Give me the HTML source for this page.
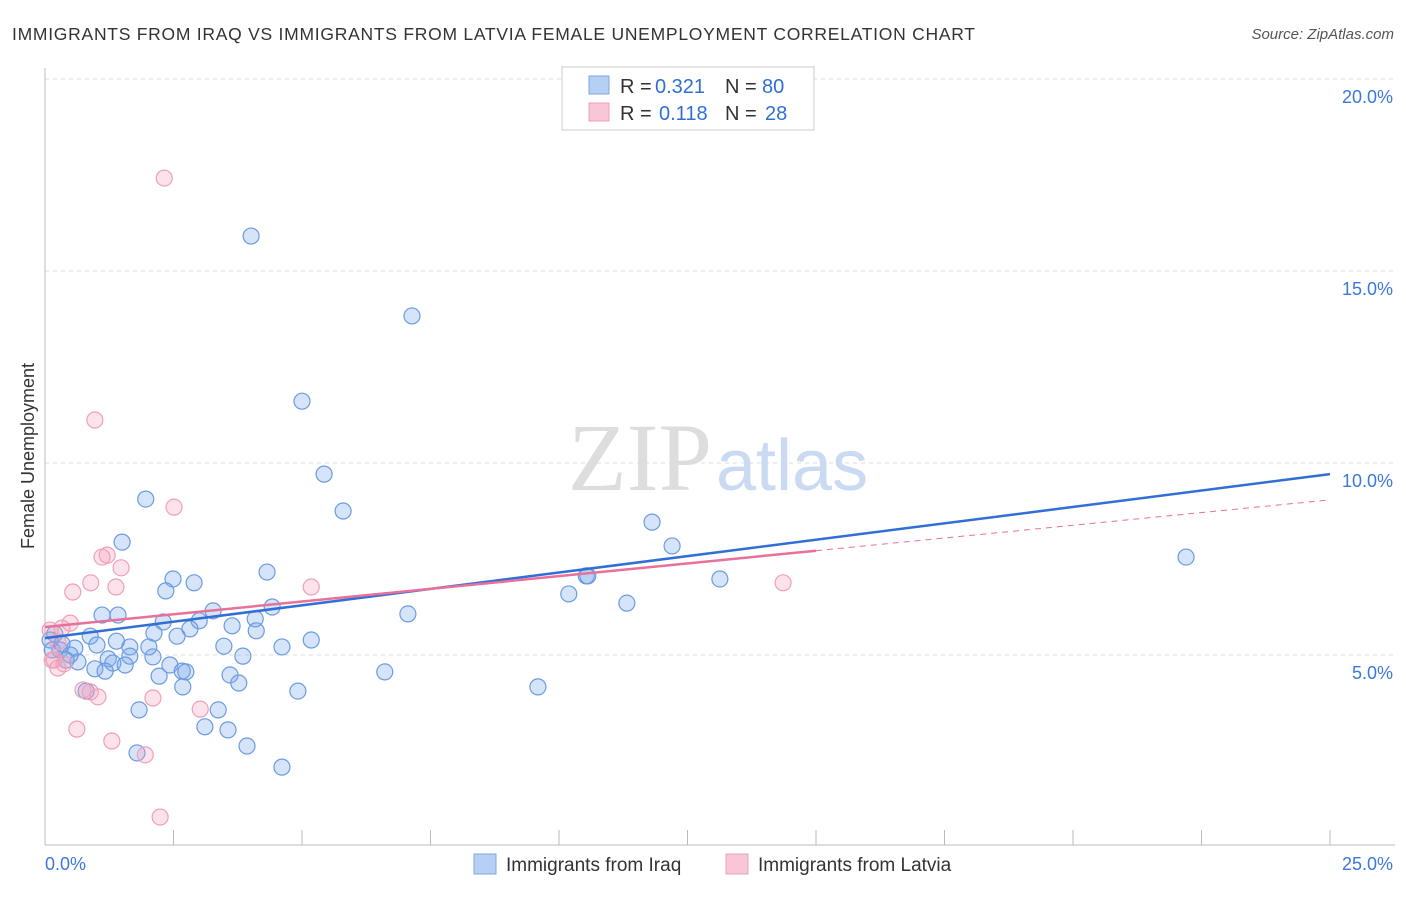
<!DOCTYPE html>
<html><head><meta charset="utf-8"><style>
body{margin:0;background:#fff;font-family:"Liberation Sans",sans-serif;}
</style></head><body>
<svg width="1406" height="892" xmlns="http://www.w3.org/2000/svg" style="font-family:'Liberation Sans',sans-serif">
<text x="12" y="40" font-size="17.5" fill="#333" textLength="963">IMMIGRANTS FROM IRAQ VS IMMIGRANTS FROM LATVIA FEMALE UNEMPLOYMENT CORRELATION CHART</text>
<text x="1394" y="39" font-size="15" fill="#555" font-style="italic" text-anchor="end">Source: ZipAtlas.com</text>
<g id="grid"></g>
<text x="712" y="490" font-size="96" fill="#ddd" text-anchor="end" font-family="Liberation Serif,serif">ZIP</text>
<text x="716" y="490" font-size="72" fill="#c9daf2">atlas</text>
<text x="34" y="456" font-size="18" fill="#333" text-anchor="middle" transform="rotate(-90 34 456)">Female Unemployment</text>
<g id="marks"></g>
<g>
<rect x="562" y="67" width="252" height="63" fill="#fff" stroke="#ccc"/>
<rect x="589" y="76" width="20" height="18" fill="#b6cff5" stroke="#7fa6e0"/>
<rect x="589" y="103" width="20" height="18" fill="#f9c6d6" stroke="#eea0b8"/>
<text x="620" y="93" font-size="20" fill="#333">R =</text><text x="655" y="93" font-size="20" fill="#2f6fd6">0.321</text>
<text x="725" y="93" font-size="20" fill="#333">N =</text><text x="762" y="93" font-size="20" fill="#2f6fd6">80</text>
<text x="620" y="120" font-size="20" fill="#333">R =</text><text x="659" y="120" font-size="20" fill="#2f6fd6">0.118</text>
<text x="725" y="120" font-size="20" fill="#333">N =</text><text x="765" y="120" font-size="20" fill="#2f6fd6">28</text>
</g>
<g>
<rect x="474" y="854" width="22" height="20" fill="#b6cff5" stroke="#7fa6e0"/>
<text x="506" y="871" font-size="19" fill="#333">Immigrants from Iraq</text>
<rect x="726" y="854" width="22" height="20" fill="#f9c6d6" stroke="#eea0b8"/>
<text x="758" y="871" font-size="19" fill="#333">Immigrants from Latvia</text>
</g>
</svg>
<script>
const xTicks=[0,2.5,5,7.5,10,12.5,15,17.5,20,22.5,25];
const yTicks=[5,10,15,20];
const yTickLabels=["5.0%","10.0%","15.0%","20.0%"];
const iraqX=[4.01,7.14,5.0,5.43,5.80,1.96,1.50,11.81,12.2,22.2,10.53,13.13,10.19,11.32,7.06,4.32,2.49,2.90,2.35,4.42,3.27,1.11,1.42,2.30,3.0,4.09,3.64,2.82,4.11,2.12,2.57,5.18,0.88,1.39,1.01,1.65,2.02,3.48,4.61,0.58,0.29,0.14,1.65,3.85,2.10,1.23,0.64,2.43,1.32,1.56,0.97,1.17,2.67,2.74,2.22,3.60,6.61,3.77,2.68,4.92,9.59,0.80,1.83,3.37,3.11,3.56,3.93,1.79,4.61,0.19,0.10,0.33,0.49,0.41,10.56];
const iraqY=[15.91,13.83,11.61,9.71,8.75,9.06,7.94,8.46,7.84,7.55,7.06,6.98,6.59,6.35,6.07,7.16,6.98,6.88,6.67,6.25,6.15,6.04,6.04,5.86,5.89,5.94,5.76,5.68,5.63,5.57,5.49,5.39,5.49,5.36,5.26,5.21,5.21,5.23,5.21,5.18,5.13,5.13,4.97,4.97,4.95,4.90,4.82,4.74,4.79,4.74,4.64,4.58,4.58,4.56,4.45,4.48,4.56,4.27,4.17,4.06,4.17,4.06,3.57,3.57,3.13,3.05,2.63,2.45,2.08,5.55,5.39,5.29,5.0,4.87,7.06];
const latX=[2.32,0.97,2.51,1.21,1.11,1.48,0.89,1.38,0.54,5.18,14.36,0.49,0.33,0.10,0.25,0.14,0.25,0.37,0.74,0.88,1.03,2.10,3.02,0.62,1.30,1.95,2.24,0.18];
const latY=[17.42,11.12,8.85,7.60,7.55,7.27,6.88,6.77,6.64,6.77,6.88,5.83,5.70,5.65,5.34,4.87,4.66,4.77,4.09,4.04,3.91,3.88,3.59,3.07,2.76,2.40,0.78,4.87];
const iraqTrend=[5.44,9.71];
const latTrend=[5.73,9.04];
const latSolidEnd=15;
const NS="http://www.w3.org/2000/svg";
const sx=v=>45+v*51.4, sy=v=>847-v*38.4;
function mk(tag,attrs,parent){const e=document.createElementNS(NS,tag);for(const k in attrs)e.setAttribute(k,attrs[k]);parent.appendChild(e);return e;}
const grid=document.getElementById('grid'), marks=document.getElementById('marks');
yTicks.forEach((t,i)=>{
 const l=mk('line',{x1:45,x2:1395,y1:sy(t),y2:sy(t),stroke:'#ddd','stroke-dasharray':'4,4'},grid);
 
 
 const tx=mk('text',{x:1393,y:sy(t)+24,'font-size':18,fill:'#3b78d8','text-anchor':'end'},grid);
 tx.textContent=yTickLabels[i];
 
 
});
const ax=mk('line',{x1:45,x2:1395,y1:845,y2:845,stroke:'#bbb'},grid);


const ay=mk('line',{x1:45,x2:45,y1:68,y2:845,stroke:'#bbb'},grid);


xTicks.forEach(t=>{
 const l=mk('line',{x1:sx(t),x2:sx(t),y1:830,y2:845,stroke:'#bbb'},grid);
 
 
});
const xl0=mk('text',{x:45,y:870,'font-size':18,fill:'#3b78d8'},grid);xl0.textContent="0.0%";


const xl1=mk('text',{x:1393,y:870,'font-size':18,fill:'#3b78d8','text-anchor':'end'},grid);xl1.textContent="25.0%";


iraqX.forEach((x,i)=>{
 const c=mk('circle',{cx:sx(x),cy:sy(iraqY[i]),r:8,fill:'rgba(120,165,235,0.3)',stroke:'#6b9be0','stroke-width':1.2},marks);
 
 
});
latX.forEach((x,i)=>{
 const c=mk('circle',{cx:sx(x),cy:sy(latY[i]),r:8,fill:'rgba(245,160,190,0.3)',stroke:'#eea0b8','stroke-width':1.2},marks);
 
 
});
const it=mk('line',{x1:sx(0),y1:sy(iraqTrend[0]),x2:sx(25),y2:sy(iraqTrend[1]),stroke:'#2f6fd6','stroke-width':2.5},marks);


const ly=v=>latTrend[0]+(latTrend[1]-latTrend[0])*v/25;
const ld=mk('line',{x1:sx(latSolidEnd),y1:sy(ly(latSolidEnd)),x2:sx(25),y2:sy(latTrend[1]),stroke:'#e8709a','stroke-width':1,'stroke-dasharray':'6,5'},marks);


const ls=mk('line',{x1:sx(0),y1:sy(latTrend[0]),x2:sx(latSolidEnd),y2:sy(ly(latSolidEnd)),stroke:'#e8709a','stroke-width':2.5},marks);


</script>
</body></html>
